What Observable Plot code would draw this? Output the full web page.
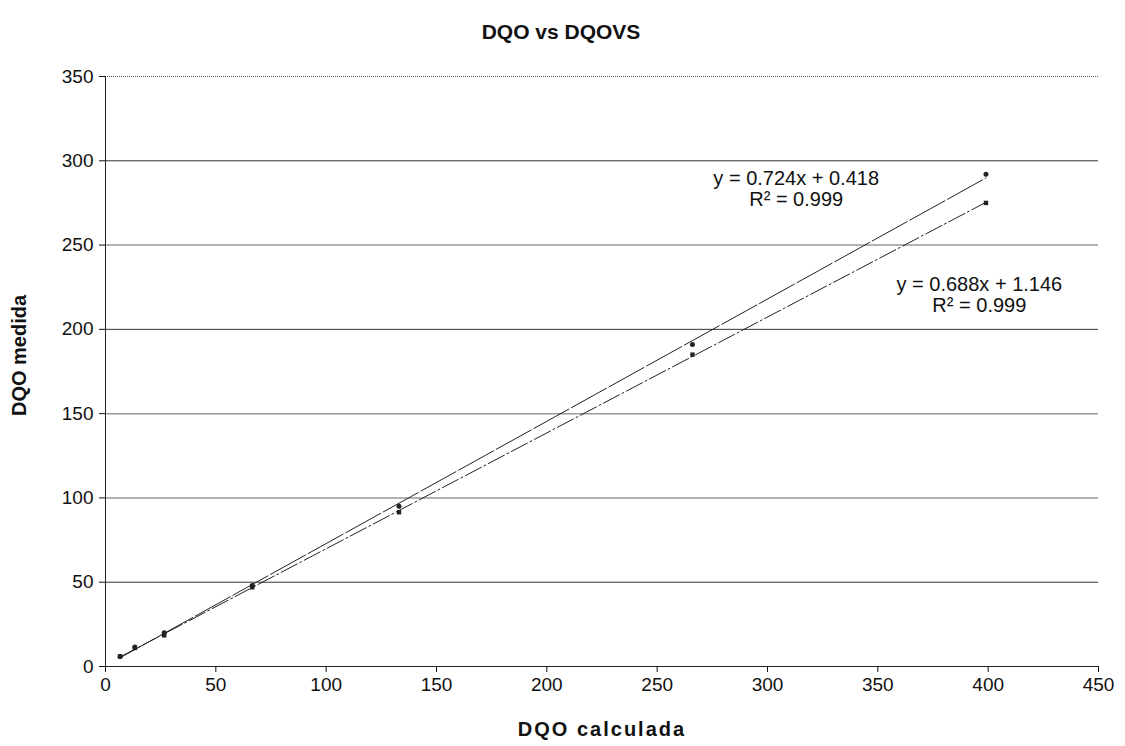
<!DOCTYPE html>
<html><head><meta charset="utf-8">
<script src="https://cdn.jsdelivr.net/npm/d3@7"></script>
<script src="https://cdn.jsdelivr.net/npm/@observablehq/plot@0.6"></script>
<style>
body{margin:0;background:#fff;font-family:"Liberation Sans",Arial,sans-serif;}
#title{height:50px;line-height:64px;text-align:center;font-weight:bold;font-size:21px;color:#111;width:1122px;}
</style></head><body>
<div id="title">DQO vs DQOVS</div>
<div id="chart"></div>
<script>
const xCalc = [6.6, 13.3, 26.6, 66.5, 133, 266, 399];
const yDQO = [6, 11.5, 20, 48, 95, 191, 292];
const yDQOVS = [6, 11, 18.5, 47, 91.5, 185, 275];
const yTicks = [0, 50, 100, 150, 200, 250, 300, 350];
const xTicks = [0, 50, 100, 150, 200, 250, 300, 350, 400, 450];
const darkGrid = [50, 200, 300];
const lightGrid = [100, 150, 250];
const eqLabels = [
  {x: 313, y: 289.5, text: "y = 0.724x + 0.418"},
  {x: 313, y: 277, text: "R² = 0.999"},
  {x: 396, y: 226.5, text: "y = 0.688x + 1.146"},
  {x: 396, y: 214, text: "R² = 0.999"}
];
const dataA = xCalc.map((x, i) => ({x, y: yDQO[i]}));
const dataB = xCalc.map((x, i) => ({x, y: yDQOVS[i]}));

const chart = Plot.plot({
  width: 1125, height: 696,
  marginLeft: 105, marginRight: 27, marginTop: 26, marginBottom: 80,
  style: {fontFamily: "Liberation Sans, Arial, sans-serif", fontSize: "19px", color: "#111"},
  x: {domain: [0, 450], ticks: xTicks},
  y: {domain: [0, 350], ticks: yTicks},
  marks: [
    Plot.ruleY(darkGrid, {stroke: "#333", strokeWidth: 1}),
    Plot.ruleY(lightGrid, {stroke: "#999", strokeWidth: 1.5}),
    Plot.ruleY([350], {stroke: "#555", strokeWidth: 1, strokeDasharray: "1,1"}),
    Plot.ruleY([0], {stroke: "#222"}),
    Plot.ruleX([0], {stroke: "#222"}),
    Plot.axisY({ticks: yTicks, tickSize: 6, tickPadding: 6, label: "DQO medida", labelAnchor: "center", labelArrow: "none", labelOffset: 94}),
    Plot.axisX({ticks: xTicks, tickSize: 6, tickPadding: 5, label: null}),
    Plot.text(["DQO calculada"], {frameAnchor: "bottom", dy: 69, fontSize: 20, fontWeight: "bold", fill: "#111"}),
    Plot.linearRegressionY(dataA, {x: "x", y: "y", ci: 0, stroke: "#222", strokeWidth: 1, strokeDasharray: "40,3"}),
    Plot.linearRegressionY(dataB, {x: "x", y: "y", ci: 0, stroke: "#222", strokeWidth: 1, strokeDasharray: "18,3,2,3"}),
    Plot.dot(dataA, {x: "x", y: "y", r: 2.5, fill: "#222"}),
    Plot.dot(dataB, {x: "x", y: "y", r: 2.5, fill: "#222", symbol: "square"}),
    Plot.text(eqLabels, {x: "x", y: "y", text: "text", fontSize: 20, fill: "#111"})
  ]
});
d3.select(chart).selectAll("text").filter(function(){return this.textContent === "DQO calculada";}).style("letter-spacing", "2px");
d3.select(chart).selectAll("text").filter(function(){return this.textContent === "DQO medida";})
  .style("font-size", "20px").style("font-weight", "bold").attr("dx", "16");
document.getElementById("chart").append(chart);
</script>
</body></html>
